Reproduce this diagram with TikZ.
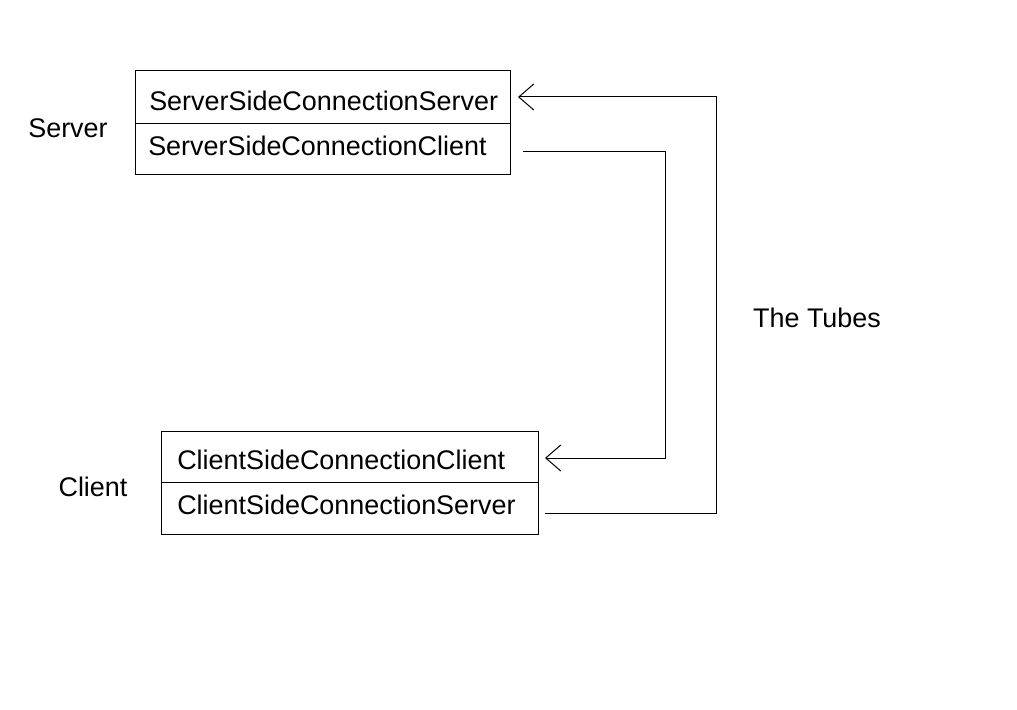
\documentclass[tikz,border=0pt]{standalone}
\usepackage{fontspec}
\setmainfont{Liberation Sans}
\usetikzlibrary{arrows.meta}
\begin{document}
\begin{tikzpicture}[x=0.75pt,y=-0.75pt,
  every node/.style={font=\fontsize{20.2}{24}\selectfont},
  comp/.style={draw=black,line width=0.75pt,minimum width=375*0.75pt,inner sep=0pt,anchor=north west},
  lbl/.style={inner sep=0pt,anchor=west},
  tube/.style={draw=black,line width=0.75pt},
  barb/.style={-{Straight Barb[length=11.25pt,width=19.5pt,line width=0.75pt]}}]
\useasboundingbox[fill=white] (0,0) rectangle (1017,710);
% Server box
\node[comp,minimum height=53*0.75pt] (sss) at (135,70) {};
\node[comp,minimum height=51*0.75pt] (ssc) at (135,123) {};
\node[lbl] (tsss) at (149,101) {ServerSideConnectionServer};
\node[lbl] (tssc) at (148,146) {ServerSideConnectionClient};
% Client box
\node[comp,minimum width=377*0.75pt,minimum height=51*0.75pt] (csc) at (161,431) {};
\node[comp,minimum width=377*0.75pt,minimum height=52*0.75pt] (css) at (161,482) {};
\node[lbl] (tcsc) at (177,460) {ClientSideConnectionClient};
\node[lbl] (tcss) at (177,505) {ClientSideConnectionServer};
% labels
\node (server) at (68,128) {Server};
\node (client) at (93,487) {Client};
\node (tubes) at (817,318) {The Tubes};
% tubes
\coordinate (a1) at (518,97);
\coordinate (a2) at (716,97);
\coordinate (a3) at (716,513);
\coordinate (a4) at (545,513);
\coordinate (b1) at (523,151);
\coordinate (b2) at (665,151);
\coordinate (b3) at (665,458);
\coordinate (b4) at (545,458);
\draw[tube,barb] (a4) -- (a3) -- (a2) -- (a1);
\draw[tube,barb] (b1) -- (b2) -- (b3) -- (b4);
\end{tikzpicture}
\end{document}
